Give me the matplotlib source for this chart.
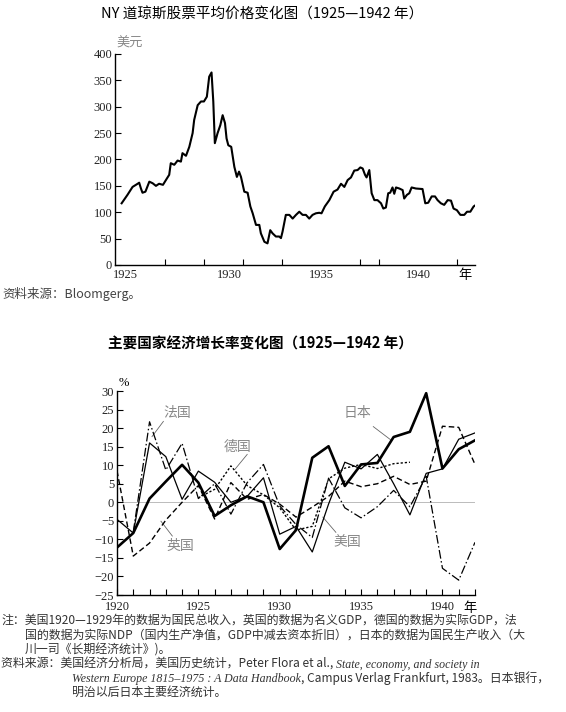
import matplotlib
matplotlib.use("Agg")
import matplotlib.pyplot as plt
import numpy as np

plt.rcParams['font.family'] = ['Noto Sans CJK SC', 'DejaVu Sans']
SERIF = ['Liberation Serif', 'DejaVu Serif']
W, H = 566, 712

# ---- data: Dow Jones average (USD) ----
dow_t = [1924.78, 1925.08, 1925.34, 1925.6, 1925.68, 1925.77, 1925.85, 1926.0, 1926.2, 1926.37,
         1926.54, 1926.7, 1926.9, 1927.05, 1927.22, 1927.3, 1927.48, 1927.65, 1927.82, 1927.9,
         1928.08, 1928.25, 1928.42, 1928.5, 1928.68, 1928.85, 1929.0, 1929.15, 1929.27, 1929.39,
         1929.48, 1929.56, 1929.7, 1929.84, 1929.96, 1930.08, 1930.16, 1930.25, 1930.4, 1930.56,
         1930.69, 1930.8, 1930.9, 1931.07, 1931.24, 1931.38, 1931.5, 1931.67, 1931.84, 1931.92,
         1932.1, 1932.26, 1932.4, 1932.52, 1932.69, 1932.86, 1932.95, 1933.03, 1933.2, 1933.38,
         1933.55, 1933.72, 1933.89, 1934.06, 1934.23, 1934.4, 1934.57, 1934.74, 1934.91, 1935.03,
         1935.2, 1935.43, 1935.65, 1935.85, 1936.03, 1936.2, 1936.37, 1936.54, 1936.71, 1936.88,
         1937.02, 1937.14, 1937.26, 1937.34, 1937.48, 1937.6, 1937.74, 1937.9, 1938.08, 1938.2,
         1938.33, 1938.45, 1938.55, 1938.67, 1938.76, 1938.85, 1939.02, 1939.19, 1939.27, 1939.41,
         1939.53, 1939.65, 1939.87, 1940.21, 1940.35, 1940.5, 1940.68, 1940.85, 1940.98, 1941.15,
         1941.32, 1941.5, 1941.67, 1941.8, 1941.97, 1942.15, 1942.35, 1942.49, 1942.66, 1942.83,
         1942.95]
dow_v = [117, 133, 148, 154, 156, 145, 137, 139, 158, 155,
         150, 154, 152, 161, 171, 193, 190, 198, 196, 212,
         207, 224, 250, 275, 303, 310, 310, 319, 357, 365,
         310, 231, 250, 265, 284, 269, 240, 227, 224, 186,
         167, 177, 167, 139, 137, 111, 98, 76, 76, 60,
         44, 41, 66, 60, 54, 54, 51, 63, 95, 95,
         88, 95, 101, 95, 95, 88, 95, 98, 99, 98,
         111, 123, 139, 143, 154, 148, 161, 166, 179, 180,
         185, 183, 171, 166, 180, 136, 123, 123, 117, 107,
         109, 136, 137, 147, 135, 147, 145, 142, 126, 133,
         136, 147, 145, 144, 117, 118, 130, 130, 123, 117,
         114, 123, 122, 107, 104, 95, 95, 101, 101, 111,
         114]

# ---- data: growth rates (%), 1920-1942 ----
years = list(range(1920, 1943))
nan = np.nan
japan = [-12.2, -8.3, 1.0, 5.6, 10.1, 5.3, -3.7, -0.8, 1.6, 0.0, -12.6, -7.5,
         12.0, 15.1, 4.4, 10.2, 10.6, 17.6, 19.0, 29.4, 9.1, 14.3, 16.7]
usa = [-4.6, -8.3, 16.0, 12.3, 0.8, 8.4, 5.4, 0.0, 1.6, 6.6, -8.6, -6.5,
       -13.4, -0.5, 10.8, 9.0, 12.9, 5.0, -3.4, 7.8, 9.0, 17.0, 18.7]
france = [nan, -8.0, 21.7, 8.7, 15.9, 1.0, 5.0, -3.2, 5.3, 10.2, -1.0, -6.0,
          -9.5, 6.5, -1.5, -4.2, -1.2, 3.2, -1.2, 7.0, -17.8, -21.0, -10.8]
uk = [8.5, -14.5, -11.0, -4.8, 0.0, 4.5, -4.5, 5.3, 0.8, 2.1, -0.5, -4.0,
      -1.3, 1.6, 5.7, 4.2, 5.0, 7.0, 4.8, 5.7, 20.5, 20.2, 10.2]
germany = [nan, nan, nan, nan, nan, 1.2, 3.5, 9.8, 4.5, 2.0, -1.5, -7.5,
           -6.5, 6.3, 9.2, 10.2, 9.1, 10.4, 10.8, nan, nan, nan, nan]

fig = plt.figure(figsize=(W / 100, H / 100), dpi=100)


def px_axes(l, t, r, b):
    return fig.add_axes([l / W, 1 - b / H, (r - l) / W, (b - t) / H])


def style_axes(ax):
    for s in ('top', 'right'):
        ax.spines[s].set_visible(False)
    for s in ('left', 'bottom'):
        ax.spines[s].set_linewidth(1.0)
    ax.tick_params(direction='in', length=4, width=0.8, labelsize=9, pad=2,
                   labelcolor='#222222')
    for lab in ax.get_yticklabels() + ax.get_xticklabels():
        lab.set_family(SERIF)


# ---------------- top chart ----------------
ax1 = px_axes(115, 54, 475, 265)
ax1.plot(dow_t, dow_v, color='black', lw=1.5)
ax1.set_xlim(1924.44, 1942.9)
ax1.set_ylim(0, 400)
ax1.set_yticks(range(0, 401, 50))
ax1.set_xticks([1925, 1927, 1929, 1931, 1933, 1935, 1937, 1938, 1940, 1942], minor=True)
ax1.set_xticks([1925, 1930.3, 1935, 1940, 1942.4])
ax1.set_xticklabels(['1925', '1930', '1935', '1940', ''])
style_axes(ax1)
ax1.tick_params(axis='x', which='major', length=0, pad=3)
ax1.tick_params(axis='x', which='minor', direction='in', length=4, width=0.8)
ax1.text(1942.4, -8, '年', ha='center', va='top', fontsize=9.5)
ax1.text(1924.5, 408, '美元', ha='left', va='bottom', fontsize=9.5, color='#888888')

fig.text(262 / W, 1 - 15 / H, 'NY 道琼斯股票平均价格变化图（1925—1942 年）',
         ha='center', va='center', fontsize=10.5)
fig.text(2 / W, 1 - 294 / H, '资料来源：Bloomgerg。', ha='left', va='center',
         fontsize=9, color='#444444')

# ---------------- bottom chart ----------------
ax2 = px_axes(117, 391, 475, 595)
ax2.axhline(0, color='#bbbbbb', lw=0.7, zorder=1)
ax2.plot(years, japan, color='black', lw=1.9, zorder=5)
ax2.plot(years, usa, color='black', lw=0.9, zorder=4)
ax2.plot(years, france, color='black', lw=0.9, dashes=(7, 2, 1.2, 2), zorder=3)
ax2.plot(years, uk, color='black', lw=1.0, dashes=(4, 2.2), zorder=3)
ax2.plot(years, germany, color='black', lw=1.0, dashes=(1.6, 1.4), zorder=3)
ax2.set_xlim(1920, 1942)
ax2.set_ylim(-25, 30)
ax2.set_yticks(range(-25, 31, 5))
ax2.set_yticklabels([str(abs(v)) if v >= 0 else '\u2212' + str(abs(v)) for v in range(-25, 31, 5)])
ax2.set_xticks(years, minor=True)
ax2.set_xticks([1920, 1925, 1930, 1935, 1940])
style_axes(ax2)
ax2.tick_params(axis='x', which='both', direction='in', length=4, width=0.8, pad=4)
ax2.text(1941.7, -26.8, '年', ha='center', va='top', fontsize=9.5)
ax2.text(1920.1, 30.5, '%', ha='left', va='bottom', fontsize=9, family=SERIF)

lab_c = '#888888'
labels = [('法国', 1923.7, 24.2, (1922.85, 21.8), (1922.15, 17.7)),
          ('德国', 1927.4, 15.0, (1928.0, 12.9), (1927.25, 8.9)),
          ('英国', 1923.9, -11.8, (1923.4, -9.1), (1922.7, -5.1)),
          ('日本', 1934.8, 24.2, (1935.75, 20.4), (1936.8, 16.9)),
          ('美国', 1934.15, -10.8, (1933.45, -8.1), (1932.65, -4.0))]
for name, tx, ty, p0, p1 in labels:
    ax2.text(tx, ty, name, ha='center', va='center', fontsize=10, color=lab_c)
    ax2.plot([p0[0], p1[0]], [p0[1], p1[1]], color='#666666', lw=0.6)

fig.text(260 / W, 1 - 344 / H, '主要国家经济增长率变化图（1925—1942 年）',
         ha='center', va='center', fontsize=10.5, fontweight='bold')

# ---------------- notes ----------------
renderer = fig.canvas.get_renderer()
note_c = '#333333'
fs = 8.6


def seq_text(x, y, parts):
    for s, italic in parts:
        kw = dict(fontstyle='italic', family=SERIF) if italic else {}
        t = fig.text(x / W, 1 - y / H, s, ha='left', va='baseline', fontsize=fs,
                     color=note_c, **kw)
        x += t.get_window_extent(renderer=renderer).width


seq_text(1, 624, [('注：美国1920—1929年的数据为国民总收入，英国的数据为名义GDP，德国的数据为实际GDP，法', False)])
seq_text(25, 639, [('国的数据为实际NDP（国内生产净值，GDP中减去资本折旧），日本的数据为国民生产收入（大', False)])
seq_text(25, 654, [('川一司《长期经济统计》)。', False)])
seq_text(1, 668, [('资料来源：美国经济分析局，美国历史统计，Peter Flora et al., ', False),
                  ('State, economy, and society in', True)])
seq_text(72, 682, [('Western Europe 1815–1975 : A Data Handbook', True),
                   (', Campus Verlag Frankfurt, 1983。日本银行，', False)])
seq_text(72, 696, [('明治以后日本主要经济统计。', False)])

fig.savefig('out.png', dpi=100)
